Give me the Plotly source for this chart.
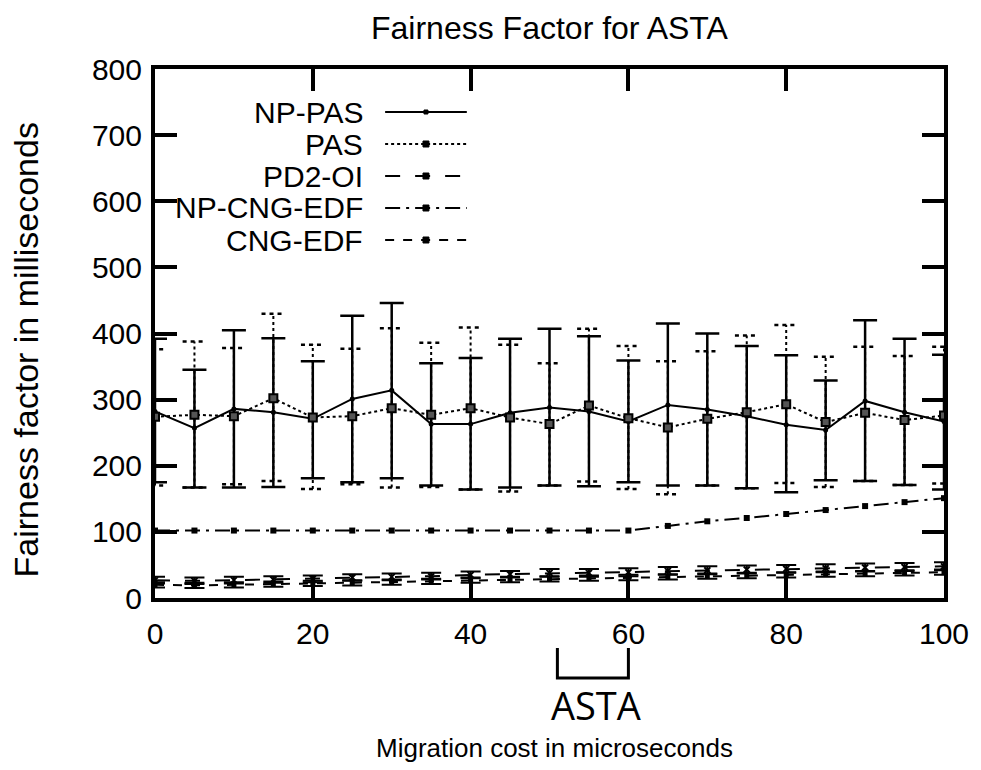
import plotly.graph_objects as go

# ---------------- data ----------------
migration_cost = [0, 5, 10, 15, 20, 25, 30, 35, 40, 45, 50, 55, 60, 65, 70, 75, 80, 85, 90, 95, 100]

np_pas = [282, 257, 286, 281, 271, 301, 314, 263, 263, 280, 288, 282, 267, 292, 285, 275, 262, 254, 298, 281, 267]
np_pas_hi = [392, 345, 405, 393, 358, 427, 446, 355, 363, 392, 407, 396, 359, 415, 400, 381, 367, 329, 420, 392, 368]
np_pas_lo = [175, 167, 167, 168, 181, 175, 181, 170, 164, 167, 170, 169, 175, 170, 170, 166, 160, 178, 177, 171, 164]

pas = [274, 277, 275, 302, 273, 275, 287, 277, 287, 273, 263, 291, 272, 258, 271, 281, 293, 266, 280, 269, 276]
pas_hi = [376, 388, 378, 430, 383, 377, 408, 386, 409, 383, 355, 407, 381, 358, 373, 397, 413, 365, 380, 366, 380]
pas_lo = [170, 167, 172, 177, 165, 172, 167, 168, 164, 161, 170, 176, 165, 157, 170, 166, 174, 168, 177, 171, 173]

pd2_oi = [27, 26, 27, 28, 29, 31, 32, 33, 35, 36, 38, 38, 39, 41, 42, 43, 44, 45, 46, 47, 48]
pd2_oi_err = [5, 5, 5, 5, 5, 5, 5, 5, 5, 5, 6, 6, 6, 6, 6, 6, 6, 6, 6, 6, 6]

np_cng_edf = [102, 102, 102, 102, 102, 102, 102, 102, 102, 102, 102, 102, 102, 109, 116, 121, 127, 133, 139, 145, 151]

cng_edf = [20, 19, 20, 21, 22, 23, 24, 25, 27, 28, 29, 30, 31, 32, 33, 34, 35, 36, 37, 38, 39]
cng_edf_err = [4, 4, 4, 4, 4, 4, 4, 4, 4, 4, 4, 4, 4, 4, 4, 4, 4, 4, 4, 4, 4]

series_names = ["NP-PAS", "PAS", "PD2-OI", "NP-CNG-EDF", "CNG-EDF"]
y_ticks = [0, 100, 200, 300, 400, 500, 600, 700, 800]
x_ticks = [0, 20, 40, 60, 80, 100]

FONT = "Liberation Sans, Arial, sans-serif"
BLACK = "#000000"

fig = go.Figure()

# NP-PAS with solid error bars
fig.add_trace(go.Scatter(
    x=migration_cost, y=np_pas, mode="lines+markers",
    line=dict(color=BLACK, width=2),
    marker=dict(symbol="circle", size=5, color=BLACK),
    error_y=dict(type="data", symmetric=False,
                 array=[h - v for h, v in zip(np_pas_hi, np_pas)],
                 arrayminus=[v - l for v, l in zip(np_pas, np_pas_lo)],
                 color=BLACK, thickness=2.5, width=12),
    showlegend=False))

# PAS dotted error bars built from data
cap = 1.5
ex, ey = [], []
for xv, lo, hi in zip(migration_cost, pas_lo, pas_hi):
    ex += [xv, xv, None]
    ey += [lo, hi, None]
cx, cy = [], []
for xv, lo, hi in zip(migration_cost, pas_lo, pas_hi):
    cx += [xv - cap, xv + cap, None, xv - cap, xv + cap, None]
    cy += [lo, lo, None, hi, hi, None]
fig.add_trace(go.Scatter(x=ex, y=ey, mode="lines",
                         line=dict(color=BLACK, width=2, dash="dot"),
                         showlegend=False, hoverinfo="skip"))
fig.add_trace(go.Scatter(x=cx, y=cy, mode="lines",
                         line=dict(color=BLACK, width=2.5, dash="4px,4px"),
                         showlegend=False, hoverinfo="skip"))
fig.add_trace(go.Scatter(
    x=migration_cost, y=pas, mode="lines+markers",
    line=dict(color=BLACK, width=2, dash="dot"),
    marker=dict(symbol="square", size=8, color="#555555", line=dict(color=BLACK, width=2)),
    showlegend=False))

# PD2-OI
fig.add_trace(go.Scatter(
    x=migration_cost, y=pd2_oi, mode="lines+markers",
    line=dict(color=BLACK, width=2, dash="longdash"),
    marker=dict(symbol="x-thin", size=6, color=BLACK, line=dict(color=BLACK, width=2)),
    error_y=dict(type="data", array=pd2_oi_err, color=BLACK, thickness=2, width=10),
    showlegend=False))

# NP-CNG-EDF
fig.add_trace(go.Scatter(
    x=migration_cost, y=np_cng_edf, mode="lines+markers",
    line=dict(color=BLACK, width=2, dash="longdashdot"),
    marker=dict(symbol="square", size=6, color=BLACK),
    showlegend=False))

# CNG-EDF
fig.add_trace(go.Scatter(
    x=migration_cost, y=cng_edf, mode="lines+markers",
    line=dict(color=BLACK, width=2, dash="dash"),
    marker=dict(symbol="square", size=5, color=BLACK),
    error_y=dict(type="data", array=cng_edf_err, color=BLACK, thickness=2, width=10),
    showlegend=False))

# ---------------- custom legend (text left of the sample) ----------------
def px2paper_x(px):
    return (px - 155) / 792.0

def px2paper_y(py):
    return (598 - py) / 529.0

legend_rows = [112, 144, 176, 208, 240]
legend_dash = ["solid", "dot", "longdash", "longdashdot", "dash"]
legend_mk = ["circle", "square", "x", "square", "square"]
shapes = []
annotations = []
for name, row, dash, mk in zip(series_names, legend_rows, legend_dash, legend_mk):
    annotations.append(dict(text=name, x=px2paper_x(366), y=px2paper_y(row),
                            xref="paper", yref="paper", xanchor="right", yanchor="middle",
                            showarrow=False, font=dict(family=FONT, size=30, color=BLACK)))
    shapes.append(dict(type="line", xref="paper", yref="paper",
                       x0=px2paper_x(386), x1=px2paper_x(468),
                       y0=px2paper_y(row), y1=px2paper_y(row),
                       line=dict(color=BLACK, width=2, dash=dash)))
    s = 2 if mk == "circle" else 3
    shapes.append(dict(type="rect", xref="paper", yref="paper",
                       x0=px2paper_x(427 - s), x1=px2paper_x(427 + s),
                       y0=px2paper_y(row - s), y1=px2paper_y(row + s),
                       fillcolor=BLACK, line=dict(color=BLACK, width=1)))

# ASTA bracket below axis
shapes.append(dict(type="path", xref="x", yref="paper",
                   path=f"M 51 {px2paper_y(648)} L 51 {px2paper_y(678)} L 60 {px2paper_y(678)} L 60 {px2paper_y(648)}",
                   line=dict(color=BLACK, width=3)))
annotations.append(dict(text="ASTA", x=px2paper_x(598), y=px2paper_y(705), xref="paper", yref="paper",
                        xanchor="center", yanchor="middle", showarrow=False,
                        font=dict(family="Open Sans, sans-serif", size=38, color=BLACK)))
annotations.append(dict(text="Migration cost in microseconds", x=px2paper_x(556), y=px2paper_y(748),
                        xref="paper", yref="paper", xanchor="center", yanchor="middle", showarrow=False,
                        font=dict(family=FONT, size=26, color=BLACK)))
annotations.append(dict(text="Fairness factor in milliseconds", x=px2paper_x(26), y=px2paper_y(350),
                        xref="paper", yref="paper", xanchor="center", yanchor="middle", showarrow=False,
                        textangle=-90, font=dict(family=FONT, size=34, color=BLACK)))
annotations.append(dict(text="Fairness Factor for ASTA", x=px2paper_x(552), y=px2paper_y(28),
                        xref="paper", yref="paper", xanchor="center", yanchor="middle", showarrow=False,
                        font=dict(family=FONT, size=32, color=BLACK)))

axis_common = dict(showgrid=False, zeroline=False, showline=True, linecolor=BLACK, linewidth=4,
                   mirror="ticks", ticks="inside", ticklen=22, tickwidth=4, tickcolor=BLACK,
                   tickfont=dict(family=FONT, size=30, color=BLACK))

fig.update_layout(
    width=981, height=770,
    margin=dict(l=155, r=34, t=69, b=172),
    paper_bgcolor="white", plot_bgcolor="white",
    xaxis=dict(range=[0, 100], tickvals=x_ticks, ticktext=[str(v) for v in x_ticks],
               ticklabelstandoff=6, **axis_common),
    yaxis=dict(range=[0, 800], tickvals=y_ticks, ticktext=[str(v) for v in y_ticks],
               ticklabelstandoff=3, **axis_common),
    shapes=shapes, annotations=annotations,
)

fig.write_html("out.html")
